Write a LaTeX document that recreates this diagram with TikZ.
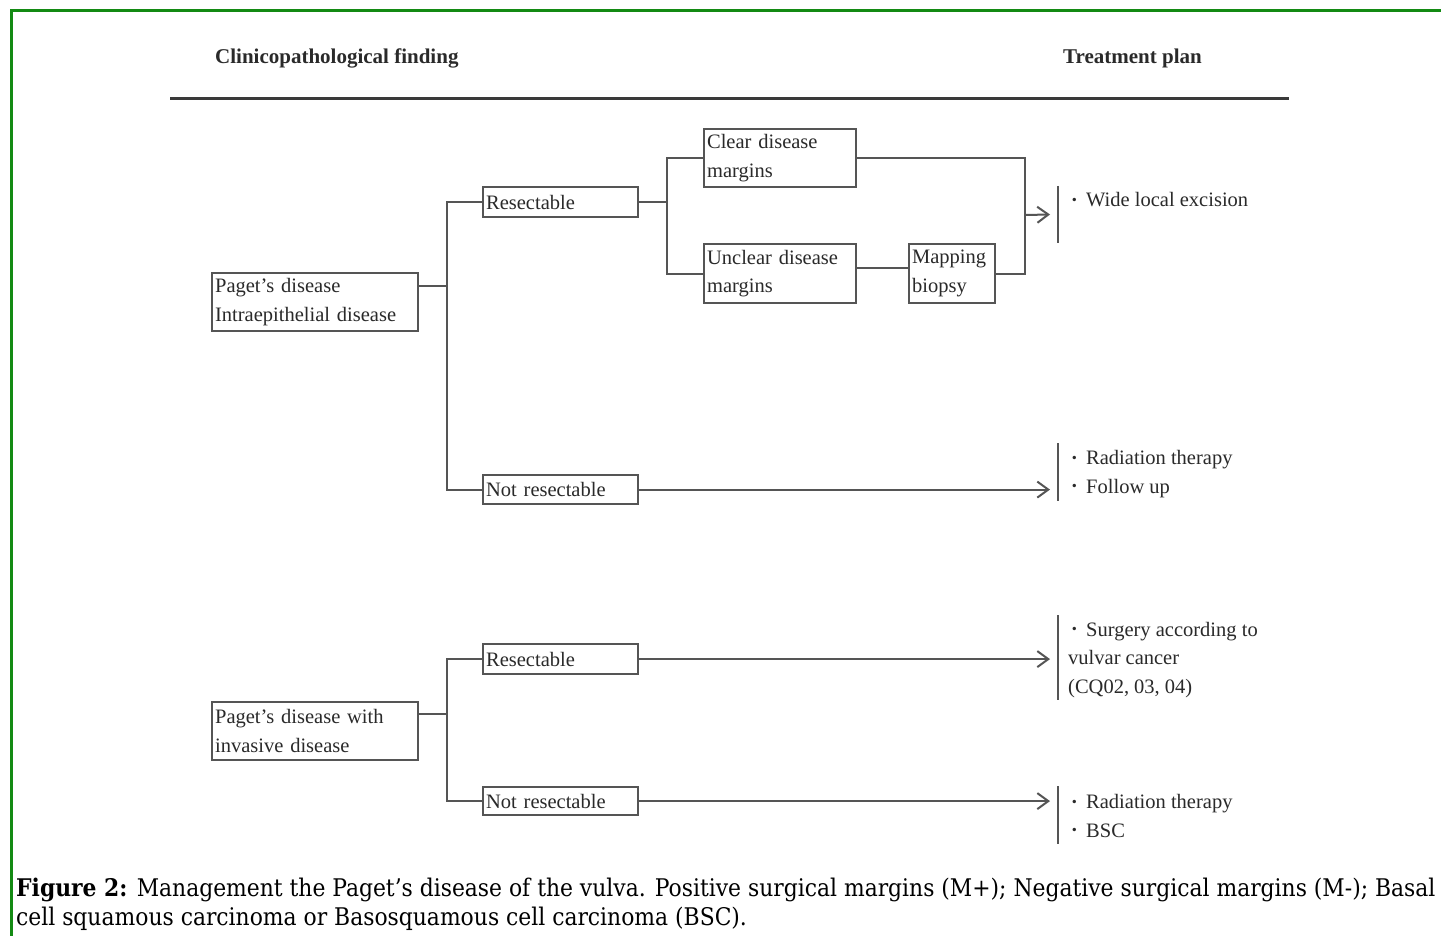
\documentclass[tikz,border=0pt]{standalone}
\usepackage{fontspec}
\setmainfont{Liberation Serif}
\newfontfamily\capfont{DejaVu Serif Condensed}
\usetikzlibrary{arrows.meta}
\definecolor{boxgray}{HTML}{555555}
\definecolor{txt}{HTML}{2A2A2A}
\definecolor{ruleg}{HTML}{3A3A3A}
\definecolor{framegreen}{HTML}{138A13}
\newcommand\bul{\makebox[18pt][l]{\hspace{1.5pt}\raisebox{-2.5pt}{\scalebox{1.4}{·}}}}
\begin{document}
\begin{tikzpicture}[x=1pt,y=-1pt,
  box/.style={draw=boxgray, line width=2.2pt, anchor=north west, inner xsep=3pt, inner ysep=0pt,
    align=left, text=txt, font=\fontsize{20.5}{28.5}\selectfont},
  conn/.style={draw=boxgray, line width=2pt},
  arr/.style={conn, -{Straight Barb[length=11pt,width=16pt,line width=2pt]}},
  barline/.style={draw=boxgray, line width=2.4pt},
  bar/.style={inner sep=0pt, minimum width=0pt, outer sep=0pt},
  treat/.style={anchor=west, inner sep=0pt, align=left, text=txt, font=\fontsize{20.5}{28.5}\selectfont},
  head/.style={anchor=west, inner sep=0pt, text=txt, font=\bfseries\fontsize{21}{25}\selectfont},
  captext/.style={anchor=west, inner sep=0pt, text=black, font=\capfont\fontsize{24.3}{29}\selectfont}]
\useasboundingbox (0,0) rectangle (1441,936);
\fill[white] (0,0) rectangle (1441,936);
% frame
\draw[framegreen, line width=3pt] (11,936) -- (11,11) -- (1441,11);
% headers
\node[head] (h1) at (215,58) {Clinicopathological finding};
\node[head] (h2) at (1063,58) {Treatment plan};
\draw[ruleg, line width=3pt] (170,99) -- (1289,99);
% boxes
\node[box, text width=200pt, minimum height=58pt] (A) at (211,272) {Paget's disease\\Intraepithelial disease};
\node[box, text width=149pt, minimum height=30pt] (R1) at (482,186) {Resectable};
\node[box, text width=149pt, minimum height=29pt] (N1) at (482,474) {Not resectable};
\node[box, text width=146pt, minimum height=58pt] (C) at (703,128) {Clear disease\\margins};
\node[box, text width=146pt, minimum height=59pt] (U) at (703,243) {Unclear disease\\margins};
\node[box, text width=80pt, minimum height=59pt] (M) at (908,243) {Mapping\\biopsy};
\node[box, text width=200pt, minimum height=58pt] (B) at (211,701) {Paget's disease with\\invasive disease};
\node[box, text width=149pt, minimum height=30pt] (R2) at (482,643) {Resectable};
\node[box, text width=149pt, minimum height=28pt] (N2) at (482,786) {Not resectable};
% treatment bars
\node[bar, minimum height=57pt] (T1b) at (1058,214.5) {};
\node[bar, minimum height=58pt] (T2b) at (1058,472) {};
\node[bar, minimum height=85pt] (T3b) at (1058,657.5) {};
\node[bar, minimum height=58pt] (T4b) at (1058,815) {};
\foreach \b in {T1b,T2b,T3b,T4b} \draw[barline] (\b.north) -- (\b.south);
% treatment texts
\node[treat] (T1) at (1068,201) {\bul Wide local excision};
\node[treat] (T2) at (1068,474) {\bul Radiation therapy\\\bul Follow up};
\node[treat] (T3) at (1068,660) {\bul Surgery according to\\vulvar cancer\\(CQ02, 03, 04)};
\node[treat] (T4) at (1068,817) {\bul Radiation therapy\\\bul BSC};
% junctions
\path (A.east) ++(28,-16) coordinate (jA);
\path (R1.east) ++(28,0) coordinate (jR);
\coordinate (jM) at (1025,215);
\path (B.east) ++(28,-17) coordinate (jB);
% connectors
\draw[conn] (A.east |- jA) -- (jA);
\draw[conn] (R1.west) -| (jA) |- (N1.west);
\draw[conn] (R1.east) -- (jR);
\draw[conn] (C.west) -| (jR) |- (U.west);
\draw[conn] ([yshift=5.5pt]U.east) -- ([yshift=5.5pt]M.west);
\draw[conn] (C.east) -| (jM) |- (M.east);
\draw[arr] (jM) -- ([xshift=-8pt]T1b.center);
\draw[arr] (N1.east) -- ([xshift=-8pt]N1.east -| T2b.center);
\draw[conn] (B.east |- jB) -- (jB);
\draw[conn] (R2.west) -| (jB) |- (N2.west);
\draw[arr] (R2.east) -- ([xshift=-8pt]R2.east -| T3b.center);
\draw[arr] (N2.east) -- ([xshift=-8pt]N2.east -| T4b.center);
% caption
\node[captext] (cap1) at (16,890) {\textbf{Figure 2:} Management the Paget’s disease of the vulva. Positive surgical margins (M+); Negative surgical margins (M-); Basal};
\node[captext] (cap2) at (16,919) {cell squamous carcinoma or Basosquamous cell carcinoma (BSC).};
\end{tikzpicture}
\end{document}
